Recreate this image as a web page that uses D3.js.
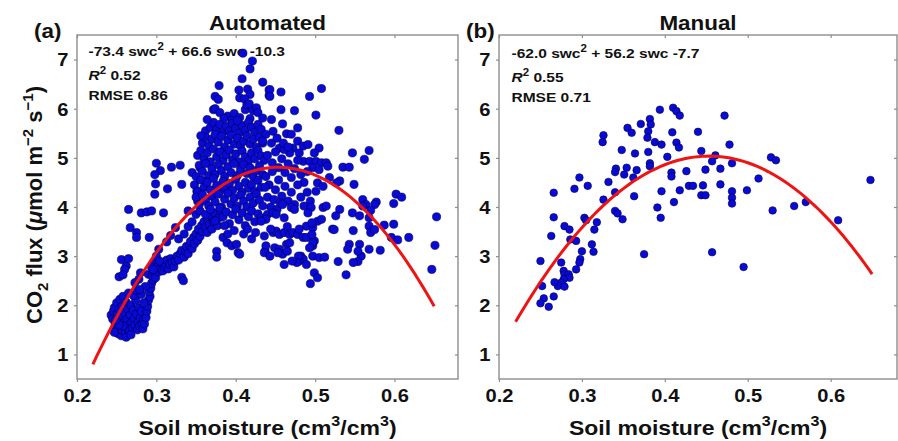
<!DOCTYPE html>
<html>
<head>
<meta charset="utf-8">
<script src="https://cdn.jsdelivr.net/npm/d3@7"></script>
<style>
  html, body { margin: 0; padding: 0; background: #fff; }
  svg { display: block; }
  text { font-family: "Liberation Sans", Arial, Helvetica, sans-serif; font-weight: bold; fill: #111; }
</style>
</head>
<body>
<svg id="chart" width="898" height="441"></svg>
<script>
// Soil CO2 flux vs. soil moisture, automated chambers and manual campaigns.
const automatedObs = [
  // dry, low-flux cluster
  [0.243,1.80],[0.245,1.72],[0.246,1.88],[0.247,1.95],[0.248,1.62],[0.249,1.55],[0.250,1.48],[0.250,2.05],
  [0.251,1.83],[0.252,1.42],[0.252,1.68],[0.253,1.92],[0.254,2.12],[0.255,1.58],[0.255,1.75],[0.256,1.38],
  [0.257,1.50],[0.257,1.98],[0.258,2.18],[0.259,1.65],[0.260,1.85],[0.261,1.45],[0.262,1.55],[0.262,2.06],
  [0.263,1.72],[0.264,1.92],[0.265,1.60],[0.266,1.48],[0.267,1.80],[0.268,2.00],[0.269,1.66],[0.270,1.53],
  [0.271,1.90],[0.272,1.72],[0.273,1.60],[0.274,2.10],[0.275,1.82],[0.276,1.50],[0.277,1.66],[0.278,1.95],
  [0.279,1.58],[0.280,1.75],[0.281,1.88],[0.282,1.62],[0.283,1.52],[0.284,1.70],[0.262,1.35],[0.268,1.40],
  [0.258,1.58],[0.253,1.60],[0.249,1.70],[0.247,1.45],[0.265,2.25],[0.271,2.20],[0.276,2.30],
  // scattered dry points
  [0.256,2.93],[0.253,2.58],[0.262,2.80],[0.260,2.73],[0.265,2.95],[0.258,2.62],[0.267,3.58],[0.275,3.48],
  [0.275,3.38],[0.291,3.38],[0.303,3.14],[0.265,3.95],[0.281,3.88],[0.288,3.90],[0.294,3.92],[0.309,3.88],
  [0.280,2.66],[0.278,2.53],[0.273,2.46],[0.297,2.87],[0.294,2.77],[0.290,2.63],
  [0.300,4.89],[0.305,4.74],[0.319,4.81],[0.330,4.85],[0.332,4.46],[0.298,4.66],[0.299,4.47],[0.298,4.26],
  [0.314,4.37],[0.340,3.92],[0.355,4.80],[0.361,4.53],[0.351,4.32],[0.352,4.12],
  // rising band
  [0.285,1.62],[0.287,1.75],[0.288,1.88],[0.289,1.98],[0.290,2.10],[0.292,2.18],[0.291,2.28],[0.293,2.35],
  [0.294,2.45],[0.296,2.52],[0.295,2.60],[0.298,2.66],[0.300,2.72],[0.299,2.56],[0.302,2.80],[0.303,2.68],
  [0.305,2.74],[0.307,2.86],[0.308,2.70],[0.310,2.78],[0.312,2.82],[0.313,2.92],[0.315,2.74],[0.317,2.84],
  [0.318,2.95],[0.320,2.88],[0.322,2.78],[0.324,2.90],[0.326,3.00],[0.328,2.92],[0.330,3.05],[0.332,3.12],
  [0.332,2.57],[0.334,2.50],[0.335,2.98],[0.337,3.10],[0.338,3.20],[0.340,3.05],[0.342,3.22],[0.343,3.30],
  [0.345,3.15],[0.347,3.38],[0.348,3.25],[0.350,3.45],[0.352,3.32],[0.353,3.55],[0.355,3.40],[0.357,3.62],
  [0.358,3.50],[0.360,3.70],[0.362,3.58],[0.364,3.48],[0.365,3.75],[0.367,3.65],[0.369,3.82],[0.370,3.55],
  [0.372,3.70],[0.374,3.88],[0.376,3.10],[0.376,2.98],[0.377,3.62],[0.379,3.78],[0.381,3.92],[0.324,3.58],
  [0.313,3.29],[0.318,3.42],[0.328,3.35],[0.335,3.45],[0.340,3.60],[0.345,3.70],[0.350,3.85],[0.355,3.92],
  [0.281,2.22],[0.286,2.38],[0.284,2.05],[0.279,2.32],[0.300,3.00],[0.304,2.90],[0.296,2.73],
  // peak-flux core
  [0.409,7.13],[0.421,6.97],[0.418,6.81],[0.408,6.61],[0.434,6.54],[0.379,6.47],[0.404,6.38],[0.415,6.40],
  [0.418,6.29],[0.442,6.38],[0.442,6.27],[0.457,6.34],[0.374,6.25],[0.378,6.19],[0.405,6.22],[0.411,6.20],
  [0.372,5.98],[0.374,6.00],[0.380,5.92],[0.390,5.85],[0.398,5.90],[0.405,5.82],[0.412,5.98],[0.414,6.08],
  [0.417,6.10],[0.422,5.96],[0.426,6.02],[0.428,5.92],[0.385,5.80],[0.395,5.76],[0.418,5.80],
  [0.362,5.55],[0.368,5.62],[0.372,5.72],[0.376,5.58],[0.380,5.68],[0.384,5.52],[0.388,5.64],[0.392,5.55],
  [0.396,5.70],[0.400,5.60],[0.404,5.50],[0.408,5.66],[0.412,5.56],[0.416,5.72],[0.420,5.62],[0.424,5.52],
  [0.428,5.68],[0.432,5.58],[0.364,5.78],[0.402,5.76],
  [0.358,5.30],[0.362,5.42],[0.366,5.25],[0.370,5.38],[0.374,5.48],[0.378,5.32],[0.382,5.44],[0.386,5.22],
  [0.390,5.36],[0.394,5.46],[0.398,5.28],[0.402,5.40],[0.406,5.24],[0.410,5.34],[0.414,5.45],[0.418,5.28],
  [0.422,5.38],[0.426,5.22],[0.430,5.42],[0.434,5.30],[0.356,5.45],
  [0.352,5.05],[0.356,5.15],[0.360,4.98],[0.364,5.10],[0.368,4.92],[0.372,5.18],[0.376,5.02],[0.380,5.12],
  [0.384,4.95],[0.388,5.06],[0.392,5.16],[0.396,4.96],[0.400,5.08],[0.404,4.92],[0.408,5.14],[0.412,5.02],
  [0.416,4.94],[0.420,5.10],[0.424,4.98],[0.428,5.15],[0.432,5.04],[0.436,4.95],
  [0.345,4.70],[0.350,4.62],[0.354,4.85],[0.358,4.72],[0.362,4.88],[0.366,4.64],[0.370,4.78],[0.374,4.66],
  [0.378,4.86],[0.382,4.74],[0.386,4.62],[0.390,4.82],[0.394,4.70],[0.398,4.88],[0.402,4.64],[0.406,4.76],
  [0.410,4.86],[0.414,4.68],[0.418,4.80],[0.422,4.62],[0.426,4.74],[0.430,4.84],[0.434,4.66],
  [0.348,4.45],[0.352,4.32],[0.356,4.55],[0.360,4.40],[0.364,4.50],[0.368,4.35],[0.372,4.58],[0.376,4.44],
  [0.380,4.32],[0.384,4.52],[0.388,4.38],[0.392,4.48],[0.396,4.34],[0.400,4.56],[0.404,4.42],[0.408,4.30],
  [0.412,4.50],[0.416,4.38],[0.420,4.46],[0.424,4.32],[0.428,4.54],[0.432,4.40],
  [0.350,4.20],[0.354,4.05],[0.358,4.25],[0.362,4.12],[0.366,4.02],[0.370,4.22],[0.374,4.10],[0.378,4.26],
  [0.382,4.00],[0.386,4.16],[0.390,4.28],[0.394,4.06],[0.398,4.18],[0.402,4.02],[0.406,4.24],[0.410,4.12],
  [0.414,4.00],[0.418,4.20],[0.422,4.08],[0.426,4.26],[0.430,4.14],
  [0.362,3.85],[0.368,3.95],[0.374,3.72],[0.380,3.98],[0.384,3.80],[0.388,3.90],[0.392,3.66],[0.396,3.84],
  [0.400,3.96],[0.404,3.74],[0.408,3.88],[0.412,3.62],[0.416,3.80],[0.420,3.92],[0.424,3.70],[0.428,3.86],
  [0.432,3.78],[0.386,3.62],
  [0.384,3.38],[0.389,3.27],[0.395,3.21],[0.403,3.07],[0.401,3.24],[0.405,3.04],[0.390,3.45],[0.398,3.52],
  [0.410,3.45],[0.415,3.55],[0.437,3.10],[0.420,3.35],[0.425,3.48],
  // wetter side
  [0.443,6.39],[0.443,6.25],[0.493,6.25],[0.508,6.41],[0.457,5.98],[0.474,5.96],[0.501,5.87],[0.530,5.56],
  [0.434,5.81],[0.445,5.78],[0.459,5.69],[0.478,5.61],[0.464,5.49],[0.470,5.48],[0.447,5.54],[0.438,5.48],
  [0.434,5.34],[0.455,5.20],[0.472,5.20],[0.478,5.34],[0.485,5.24],[0.491,5.27],[0.480,5.10],[0.468,5.10],
  [0.461,5.17],[0.505,5.20],[0.499,5.10],[0.485,4.93],[0.493,4.93],[0.501,4.93],[0.508,4.90],[0.514,4.90],
  [0.516,4.83],[0.497,4.80],[0.505,4.76],[0.503,4.49],[0.510,4.42],[0.501,4.32],
  [0.547,5.10],[0.562,4.97],[0.568,5.15],[0.535,4.81],[0.543,4.81],[0.531,4.53],[0.527,4.49],[0.518,4.60],
  [0.549,4.46],[0.560,4.15],[0.564,4.05],[0.577,4.10],[0.602,4.26],[0.609,4.20],[0.599,4.07],
  [0.440,5.05],[0.446,4.90],[0.450,5.12],[0.454,4.80],[0.458,4.98],[0.462,4.70],[0.466,4.88],[0.470,4.60],
  [0.474,4.78],[0.478,4.95],[0.482,4.66],[0.486,4.50],[0.490,4.72],[0.438,4.62],[0.442,4.45],[0.446,4.72],
  [0.450,4.35],[0.454,4.55],[0.458,4.22],[0.462,4.42],[0.466,4.12],[0.470,4.30],[0.474,4.05],[0.478,4.45],
  [0.482,4.20],[0.486,4.02],[0.490,4.30],[0.494,4.12],[0.440,4.20],[0.444,4.00],[0.448,4.15],[0.452,3.95],
  [0.456,4.08],[0.440,3.85],[0.437,4.40],[0.445,5.30],[0.452,5.40],[0.460,5.30],[0.466,5.22],
  [0.434,4.02],[0.447,3.88],[0.451,3.85],[0.438,3.75],[0.432,3.71],[0.459,4.05],[0.470,3.99],[0.474,3.95],
  [0.461,3.78],[0.495,3.99],[0.491,3.88],[0.510,3.99],[0.514,4.02],[0.531,3.95],[0.526,3.82],[0.547,3.88],
  [0.556,3.82],[0.560,4.02],[0.575,4.05],[0.570,3.93],[0.568,3.78],
  [0.436,3.41],[0.447,3.48],[0.451,3.51],[0.455,3.44],[0.461,3.48],[0.468,3.44],[0.472,3.48],[0.478,3.44],
  [0.485,3.38],[0.438,3.21],[0.436,3.07],[0.443,3.00],[0.449,3.17],[0.455,3.14],[0.464,3.24],[0.468,3.27],
  [0.459,3.04],[0.453,3.07],[0.489,3.61],[0.497,3.58],[0.503,3.71],[0.508,3.75],[0.489,3.38],[0.499,3.31],
  [0.497,3.21],[0.497,3.00],[0.482,3.00],[0.485,2.94],[0.480,2.90],[0.489,2.83],[0.505,2.97],[0.512,2.98],
  [0.461,2.83],[0.499,2.66],[0.503,2.56],[0.494,2.44],[0.522,3.55],[0.548,3.52],[0.543,3.24],[0.541,3.14],
  [0.529,2.89],[0.539,2.62],[0.558,3.00],[0.554,2.89],[0.568,3.61],[0.570,3.48],[0.575,3.54],[0.587,3.63],
  [0.568,3.14],[0.582,3.12],[0.596,3.38],[0.618,3.38],[0.653,3.80],[0.651,3.22],[0.647,2.73],[0.604,3.33],
  [0.599,3.65],[0.444,3.55],[0.465,3.60],[0.480,3.55],[0.524,3.54],[0.556,3.24],[0.554,3.10],[0.548,2.87],
  [0.496,3.68],[0.496,3.44],[0.497,3.27],[0.493,3.17],[0.479,3.00],[0.477,2.87],[0.471,2.90],[0.465,3.10]
];

const manualObs = [
  [0.394,5.98],[0.410,6.02],[0.414,5.95],[0.418,5.86],[0.382,5.79],[0.383,5.68],[0.371,5.69],[0.355,5.61],
  [0.360,5.51],[0.380,5.54],[0.379,5.41],[0.388,5.32],[0.396,5.27],[0.409,5.52],[0.414,5.31],[0.417,5.21],
  [0.326,5.46],[0.325,5.32],[0.348,5.16],[0.364,5.09],[0.380,5.12],[0.403,5.02],[0.426,4.73],[0.382,4.89],
  [0.382,4.83],[0.341,4.78],[0.340,4.71],[0.354,4.80],[0.351,4.66],[0.366,4.75],[0.362,4.60],[0.408,4.70],
  [0.408,4.62],[0.332,4.51],[0.297,4.60],[0.307,4.43],[0.291,4.37],[0.266,4.29],[0.340,4.30],[0.396,4.32],
  [0.418,4.34],[0.429,4.43],[0.326,4.15],[0.363,4.22],[0.411,4.10],[0.391,3.99],[0.395,3.78],[0.340,3.92],
  [0.343,3.87],[0.349,3.75],[0.303,3.78],[0.305,3.73],[0.266,3.79],[0.318,3.69],[0.315,3.54],[0.279,3.61],
  [0.285,3.54],[0.263,3.41],[0.286,3.34],[0.293,3.31],[0.312,3.24],[0.314,3.09],[0.300,3.10],[0.298,2.94],
  [0.297,2.87],[0.293,2.73],[0.250,2.90],[0.275,2.87],[0.278,2.70],[0.279,2.63],[0.284,2.63],[0.285,2.56],
  [0.278,2.53],[0.275,2.46],[0.271,2.39],[0.267,2.47],[0.279,2.38],[0.375,3.04],[0.252,2.39],[0.266,2.18],
  [0.254,2.14],[0.250,2.04],[0.260,1.97],
  [0.472,5.86],[0.440,5.53],[0.478,5.27],[0.444,5.14],[0.461,5.05],[0.457,4.93],[0.481,4.89],[0.528,5.01],
  [0.534,4.95],[0.449,4.76],[0.467,4.78],[0.513,4.58],[0.434,4.43],[0.446,4.44],[0.467,4.46],[0.481,4.32],
  [0.499,4.34],[0.444,4.24],[0.449,4.24],[0.481,4.19],[0.481,4.07],[0.530,3.93],[0.556,4.02],[0.570,4.10],
  [0.609,3.73],[0.648,4.55],[0.457,3.08],[0.495,2.78]
];

// Quadratic fits: a*swc^2 + b*swc + c
const automatedFit = [-73.4, 66.6, -10.3];
const manualFit = [-62.0, 56.2, -7.7];
const fitRange = [0.22, 0.65];
const r2Values = ["0.52", "0.55"];
const rmseValues = ["0.86", "0.71"];
const panelTitles = ["Automated", "Manual"];
const panelTags = ["(a)", "(b)"];
const xTicks = [0.2, 0.3, 0.4, 0.5, 0.6];
const yTicks = [1, 2, 3, 4, 5, 6, 7];
const xDomain = [0.2, 0.68];
const yDomain = [0.5, 7.5];

const svg = d3.select("#chart");
const SX = 1.15;              // horizontal stretch applied to all labels
const axisGrey = "#8e8e8e";
const dotFill = "#0a0ad6";
const dotStroke = "#00004a";
const fitRed = "#ee1414";

const panels = [
  { data: automatedObs, fit: automatedFit, left: 77, right: 458, tagX: 34, noteX: 88.5, noteY: [56, 80, 99.5], r: 4.1 },
  { data: manualObs, fit: manualFit, left: 499, right: 897, tagX: 466, noteX: 511.5, noteY: [58, 82, 101.5], r: 3.8 }
];
const plotTop = 35, plotBottom = 379;

function putText(parent, x, y, str, size, anchor) {
  return parent.append("text")
    .attr("transform", `translate(${x},${y}) scale(${SX},1)`)
    .attr("text-anchor", anchor || "start")
    .style("font-size", size + "px")
    .text(str);
}

panels.forEach((p, i) => {
  const w = p.right - p.left, h = plotBottom - plotTop;
  const g = svg.append("g").attr("transform", `translate(${p.left},${plotTop})`);
  const x = d3.scaleLinear().domain(xDomain).range([0, w]);
  const y = d3.scaleLinear().domain(yDomain).range([h, 0]);

  // axes: labelled bottom/left, tick-only top/right
  const bx = g.append("g").attr("transform", `translate(0,${h})`)
    .call(d3.axisBottom(x).tickValues(xTicks).tickSize(3).tickFormat(d3.format(".1f")));
  const lx = g.append("g")
    .call(d3.axisLeft(y).tickValues(yTicks).tickSize(3).tickFormat(d3.format("d")));
  const tx = g.append("g")
    .call(d3.axisTop(x).tickValues(xTicks).tickSize(-3).tickFormat(""));
  const rx = g.append("g").attr("transform", `translate(${w},0)`)
    .call(d3.axisRight(y).tickValues(yTicks).tickSize(-3).tickFormat(""));
  [bx, lx, tx, rx].forEach(a => {
    a.select(".domain").remove();
    a.selectAll(".tick line").attr("stroke", axisGrey).attr("stroke-width", 1.2);
  });
  [bx, lx].forEach(a => a.attr("font-family", null).attr("font-size", null));
  bx.selectAll(".tick text")
    .attr("y", 23).attr("dy", 0)
    .attr("transform", `scale(${SX},1)`)
    .style("font-size", "17.5px").attr("fill", "#111");
  lx.selectAll(".tick text")
    .attr("x", -8.5 / SX).attr("dy", "0.36em")
    .attr("transform", `scale(${SX},1)`)
    .style("font-size", "17.5px").attr("fill", "#111");

  // plot frame
  g.append("rect").attr("x", 0).attr("y", 0).attr("width", w).attr("height", h)
    .attr("fill", "none").attr("stroke", axisGrey).attr("stroke-width", 1.4);

  // fit statistics
  const [a, b, c] = p.fit;
  const eq = g.append("text")
    .attr("transform", `translate(${p.noteX - p.left},${p.noteY[0] - plotTop}) scale(${SX},1)`)
    .style("font-size", "13.5px");
  eq.append("tspan").text(`${a.toFixed(1)} swc`);
  eq.append("tspan").attr("dy", -6).style("font-size", "10px").text("2");
  eq.append("tspan").attr("dy", 6).text(` + ${b.toFixed(1)} swc ${c.toFixed(1)}`);

  const r2 = g.append("text")
    .attr("transform", `translate(${p.noteX - p.left},${p.noteY[1] - plotTop}) scale(${SX},1)`)
    .style("font-size", "13.5px");
  r2.append("tspan").style("font-style", "italic").text("R");
  r2.append("tspan").attr("dy", -6).style("font-size", "10px").text("2");
  r2.append("tspan").attr("dy", 6).text(" " + r2Values[i]);

  putText(g, p.noteX - p.left, p.noteY[2] - plotTop, "RMSE " + rmseValues[i], 13.5);

  // observations
  g.append("g").selectAll("circle").data(p.data).join("circle")
    .attr("cx", d => x(d[0])).attr("cy", d => y(d[1])).attr("r", p.r)
    .attr("fill", dotFill).attr("stroke", dotStroke).attr("stroke-width", 0.6);

  // fitted quadratic
  const samples = d3.range(0, 87).map(k => fitRange[0] + (fitRange[1] - fitRange[0]) * k / 86);
  g.append("path")
    .datum(samples)
    .attr("fill", "none").attr("stroke", fitRed).attr("stroke-width", 3)
    .attr("d", d3.line().x(s => x(s)).y(s => y(a * s * s + b * s + c)));

  // titles
  putText(svg, (p.left + p.right) / 2, 29.5, panelTitles[i], 19.5, "middle");
  putText(svg, p.tagX, 38, panelTags[i], 19.5);

  // x axis title
  const xt = svg.append("text")
    .attr("transform", `translate(${(p.left + p.right) / 2},435) scale(${SX},1)`)
    .attr("text-anchor", "middle").style("font-size", "20px");
  xt.append("tspan").text("Soil moisture (cm");
  xt.append("tspan").attr("dy", -9).style("font-size", "14px").text("3");
  xt.append("tspan").attr("dy", 9).text("/cm");
  xt.append("tspan").attr("dy", -9).style("font-size", "14px").text("3");
  xt.append("tspan").attr("dy", 9).text(")");
});

// y axis title
const yt = svg.append("text")
  .attr("transform", "translate(41.5,205) rotate(-90)")
  .attr("text-anchor", "middle").style("font-size", "22px");
yt.append("tspan").text("CO");
yt.append("tspan").attr("dy", 6).style("font-size", "15px").text("2");
yt.append("tspan").attr("dy", -6).text(" flux (");
yt.append("tspan").style("font-style", "italic").text("\u03bc");
yt.append("tspan").text("mol m");
yt.append("tspan").attr("dy", -9).style("font-size", "15px").text("\u22122");
yt.append("tspan").attr("dy", 9).text(" s");
yt.append("tspan").attr("dy", -9).style("font-size", "15px").text("\u22121");
yt.append("tspan").attr("dy", 9).text(")");
</script>
</body>
</html>
